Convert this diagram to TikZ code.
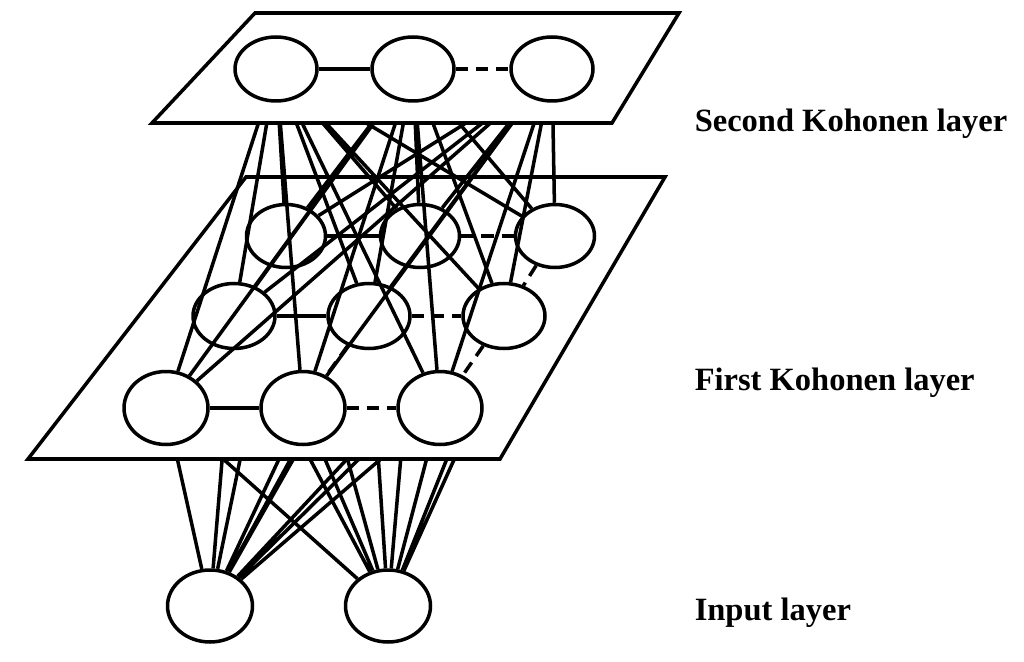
\documentclass[tikz,border=0pt]{standalone}
\usepackage{fontspec}
\setmainfont{Liberation Serif}
\usepackage{tikz}
\usetikzlibrary{shapes.geometric}

\begin{document}
\begin{tikzpicture}[
    x=0.02cm, y=-0.02cm,
    line width=2pt,
    neuron/.style 2 args={
        ellipse, draw, inner sep=0pt,
        minimum width=#1, minimum height=#2,
    },
    plane/.style={draw, fill=white, line join=miter},
    link/.style={dash pattern=on 7pt off 4.5pt},
    lbl/.style={anchor=base west, inner sep=0pt, font=\fontsize{18.5}{22}\selectfont\bfseries},
]
\useasboundingbox (0,0) rectangle (1024,662);

% Second Kohonen layer
\draw[plane] (255,13) -- (679,13) -- (612,123) -- (152,123) -- cycle;
\node[neuron={1.64cm}{1.28cm}] (s1) at (276,69) {};
\node[neuron={1.64cm}{1.28cm}] (s2) at (413,69) {};
\node[neuron={1.64cm}{1.28cm}] (s3) at (552,69) {};

\draw (s1) -- (s2);
\draw[link] (s2) -- (s3);

% First Kohonen layer
\draw[plane] (246,177) -- (665,177) -- (500,459) -- (28,459) -- cycle;
\node[neuron={1.58cm}{1.26cm}] (f11) at (286,236) {};
\node[neuron={1.58cm}{1.26cm}] (f12) at (420,236) {};
\node[neuron={1.58cm}{1.26cm}] (f13) at (555,236) {};
\node[neuron={1.64cm}{1.30cm}] (f21) at (234,316) {};
\node[neuron={1.64cm}{1.30cm}] (f22) at (369,316) {};
\node[neuron={1.64cm}{1.30cm}] (f23) at (504,316) {};
\node[neuron={1.68cm}{1.46cm}] (f31) at (166,408) {};
\node[neuron={1.68cm}{1.46cm}] (f32) at (303,408) {};
\node[neuron={1.68cm}{1.46cm}] (f33) at (440,408) {};

\draw (f11) -- (f12);
\draw[link] (f12) -- (f13);
\draw (f21) -- (f22);
\draw[link] (f22) -- (f23);
\draw (f31) -- (f32);
\draw[link] (f32) -- (f33);
\draw[link] (f13) -- (f23);
\draw[link] (f23) -- (f33);
\draw[link] (f22) -- (f32);

% Input layer
\node[neuron={1.70cm}{1.44cm}] (i1) at (210,606) {};
\node[neuron={1.70cm}{1.44cm}] (i2) at (388,606) {};

% Second layer to first layer (hidden above the plane edge)
\begin{scope}
\clip (0,123) rectangle (1024,662);
\draw (s1) -- (f11) (s1) -- (f12) (s1) -- (f13)
      (s1) -- (f21) (s1) -- (f22) (s1) -- (f23)
      (s1) -- (f31) (s1) -- (f32) (s1) -- (f33);
\draw (s2) -- (f11) (s2) -- (f12) (s2) -- (f13)
      (s2) -- (f21) (s2) -- (f22) (s2) -- (f23)
      (s2) -- (f31) (s2) -- (f32) (s2) -- (f33);
\draw (s3) -- (f11) (s3) -- (f12) (s3) -- (f13)
      (s3) -- (f21) (s3) -- (f22) (s3) -- (f23)
      (s3) -- (f31) (s3) -- (f32) (s3) -- (f33);
\end{scope}

% Input layer to first layer (hidden behind the plane)
\begin{scope}
\clip (0,459) rectangle (1024,662);
\draw (i1) -- (f11) (i1) -- (f12) (i1) -- (f13)
      (i1) -- (f21) (i1) -- (f22) (i1) -- (f23)
      (i1) -- (f31) (i1) -- (f32) (i1) -- (f33);
\draw (i2) -- (f11) (i2) -- (f12) (i2) -- (f13)
      (i2) -- (f21) (i2) -- (f22) (i2) -- (f23)
      (i2) -- (f31) (i2) -- (f32) (i2) -- (f33);
\end{scope}

% Labels
\node[lbl] (l2) at (693,132) {Second Kohonen layer};
\node[lbl] (l1) at (693,390) {First Kohonen layer};
\node[lbl] (l0) at (693,620) {Input layer};

\end{tikzpicture}
\end{document}
